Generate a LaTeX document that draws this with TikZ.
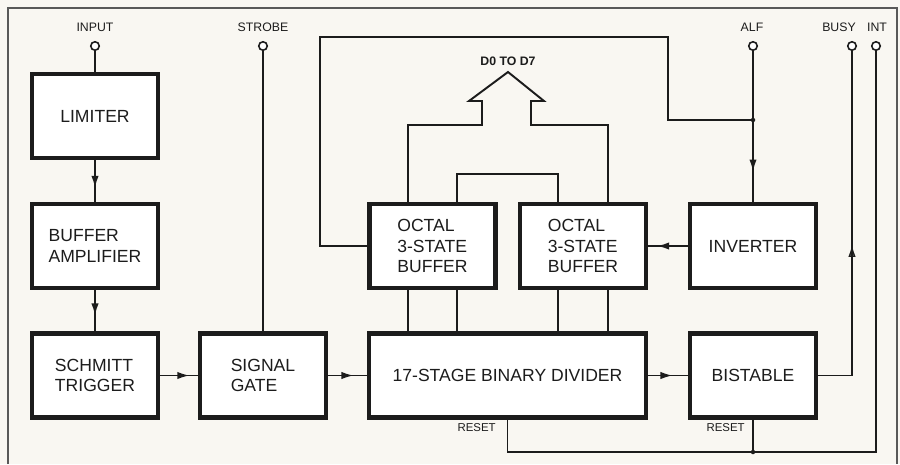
\documentclass[tikz,border=0pt]{standalone}
\usepackage{fontspec}
\setmainfont{Liberation Sans}
\usetikzlibrary{arrows.meta,decorations.markings,calc}
\definecolor{paper}{RGB}{249,247,242}
\definecolor{ink}{RGB}{28,28,28}
\tikzset{
  blk/.style={draw=ink, line width=2.3pt, fill=white, minimum width=2.52cm, minimum height=1.68cm,
    align=left, font=\fontsize{10}{11.5}\selectfont, text=ink, inner sep=2pt},
  wire/.style={draw=ink, line width=1.1pt},
  frameline/.style={draw=gray!70!black, line width=0.8pt},
  pin/.style={circle, draw=ink, line width=0.9pt, fill=white, inner sep=0pt, minimum size=0.17cm},
  lbl/.style={font=\fontsize{7}{8}\selectfont, text=ink, inner sep=0pt},
  rlbl/.style={font=\fontsize{6.5}{7}\selectfont, text=ink, inner sep=0pt, anchor=east},
  midarrow/.style={postaction={decorate, decoration={markings,
      mark=at position #1 with {\arrow{Latex[length=7pt,width=4.2pt]}}}}},
  openarrow/.style={postaction={decorate, decoration={markings,
      mark=at position #1 with {\arrow{Latex[open,length=7pt,width=4.2pt,line width=0.8pt]}}}}},
  jdot/.style={circle, fill=ink, inner sep=0pt, minimum size=0.09cm},
}
\begin{document}
\begin{tikzpicture}[x=0.02cm, y=-0.02cm]
\useasboundingbox (0,0) rectangle (900,464);
\fill[paper] (0,0) rectangle (900,464);
\draw[frameline] (8,464) -- (8,8) -- (897,8) -- (897,464);

% blocks
\node[blk] (lim) at (95,116) {LIMITER};
\node[blk] (buf) at (95,246) {BUFFER\\AMPLIFIER};
\node[blk] (sch) at (95,375.5) {SCHMITT\\TRIGGER};
\node[blk] (gate) at (263,375.5) {SIGNAL\\GATE};
\node[blk, minimum width=5.54cm, align=center] (div) at (507.5,375.5) {17-STAGE BINARY DIVIDER};
\node[blk] (oct1) at (432.5,246) {OCTAL\\3-STATE\\BUFFER};
\node[blk] (oct2) at (583,246) {OCTAL\\3-STATE\\BUFFER};
\node[blk] (inv) at (753,246) {INVERTER};
\node[blk] (bist) at (753,375.5) {BISTABLE};

% pins and labels
\node[pin] (pin-in) at (95,46) {};
\node[pin] (pin-st) at (263,46) {};
\node[pin] (pin-alf) at (753,46) {};
\node[pin] (pin-busy) at (852,46) {};
\node[pin] (pin-int) at (876,46) {};
\node[lbl] (l-in) at (95,27.5) {INPUT};
\node[lbl] (l-st) at (263,27.5) {STROBE};
\node[lbl] (l-alf) at (752,27.5) {ALF};
\node[lbl] (l-busy) at (839,27.5) {BUSY};
\node[lbl] (l-int) at (877,27.5) {INT};
\node[lbl, font=\fontsize{7}{8}\bfseries\selectfont] (l-bus) at (508,61.5) {D0 TO D7};

% signal chain
\draw[wire] (pin-in) -- (lim);
\draw[wire, midarrow=0.67] (lim) -- (buf);
\draw[wire, midarrow=0.62] (buf) -- (sch);
\draw[wire, midarrow=0.78] (sch) -- (gate);
\draw[wire] (pin-st) -- (gate);
\draw[wire, midarrow=0.66] (gate) -- (div);
\draw[wire, midarrow=0.62] (div) -- (bist);
\draw[wire, midarrow=0.78] (inv) -- (oct2);
\draw[wire, midarrow=0.8] (pin-alf) -- (inv);

% feedback from octal buffer to ALF line
\coordinate (jn) at (753,120);
\draw[wire] (oct1.west) -- (320,246) -- (320,37) -- (668,37) -- (668,120) -- (jn);
\node[jdot] at (jn) {};

% busy output
\draw[wire, openarrow=0.46] (bist.east) -| (pin-busy);

% int / reset line
\coordinate (rb) at (507.5,452);
\coordinate (jr) at (753,452);
\draw[wire] (pin-int) |- (rb) -- (div.south);
\draw[wire] (bist.south) -- (jr);
\node[jdot] at (jr) {};
\node[rlbl] at (496,427.5) {RESET};
\node[rlbl] at (745,427.5) {RESET};

% data bus
\coordinate (t1) at ($(oct1.north)+(-24.5,0)$);
\coordinate (t2) at ($(oct1.north)+(24.5,0)$);
\coordinate (t3) at ($(oct2.north)+(-25,0)$);
\coordinate (t4) at ($(oct2.north)+(25,0)$);
\draw[wire, line join=miter] (t1) -- (t1 |- 0,125) -- (482,125) -- (482,101) -- (469,101)
  -- (508,72) -- (544,101) -- (531,101) -- (531,125) -- (t4 |- 0,125) -- (t4);
\draw[wire] (t2) -- (t2 |- 0,174) -- (t3 |- 0,174) -- (t3);

% buffers to divider
\coordinate (b1) at ($(oct1.south)+(-24.5,0)$);
\coordinate (b2) at ($(oct1.south)+(24.5,0)$);
\coordinate (b3) at ($(oct2.south)+(-25,0)$);
\coordinate (b4) at ($(oct2.south)+(25,0)$);
\draw[wire] (b1) -- (b1 |- div.north);
\draw[wire] (b2) -- (b2 |- div.north);
\draw[wire] (b3) -- (b3 |- div.north);
\draw[wire] (b4) -- (b4 |- div.north);
\end{tikzpicture}
\end{document}
